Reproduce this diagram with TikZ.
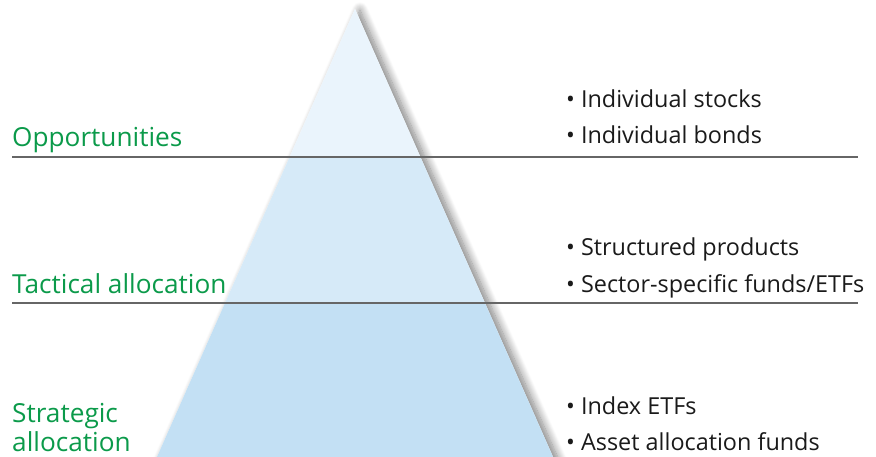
\documentclass[tikz,border=0pt]{standalone}
\usepackage{fontspec}
\setmainfont{Open Sans}
\usetikzlibrary{shadows.blur}
\definecolor{grn}{HTML}{0B9A4A}
\definecolor{ink}{HTML}{1A1A1A}
\definecolor{topc}{HTML}{EAF4FC}
\definecolor{midc}{HTML}{D6EAF8}
\definecolor{botc}{HTML}{C3E0F4}
\definecolor{rule}{HTML}{666666}
\tikzset{
  lvl/.style={text=grn, font=\fontsize{26.2}{30}\selectfont, inner sep=0pt, anchor=base west},
  item/.style={text=ink, font=\fontsize{23.4}{26}\selectfont, inner sep=0pt, anchor=base west},
  sep/.style={draw=rule, line width=2.8pt}
}
\begin{document}
\begin{tikzpicture}[x=1pt,y=-1pt]
\useasboundingbox (0,0) rectangle (876,457);
\begin{scope}
\clip (0,0) rectangle (876,457);
\fill[white, blur shadow={shadow xshift=5pt, shadow yshift=-1pt, shadow blur steps=12, shadow blur radius=8pt, shadow opacity=50}]
  (355,9) -- (149,475) -- (561,475) -- cycle;
\begin{scope}
\clip (355,9) -- (149,475) -- (561,475) -- cycle;
\fill[topc] (0,0) rectangle (876,157);
\fill[midc] (0,157) rectangle (876,303);
\fill[botc] (0,303) rectangle (876,480);
\end{scope}
\end{scope}
\coordinate (l1a) at (12,157);
\coordinate (l1b) at (858,157);
\coordinate (l2a) at (12,303);
\coordinate (l2b) at (858,303);
\draw[sep] (l1a) -- (l1b);
\draw[sep] (l2a) -- (l2b);
\node[lvl] (opp) at (12,147) {Opportunities};
\node[lvl] (tac) at (12,294) {Tactical allocation};
\node[lvl] (str1) at (12,422) {Strategic};
\node[lvl] (str2) at (12,451) {allocation};
\node[item] (i1) at (566,108) {• Individual stocks};
\node[item] (i2) at (566,144) {• Individual bonds};
\node[item] (i3) at (566,256) {• Structured products};
\node[item] (i4) at (566,292) {• Sector-specific funds/ETFs};
\node[item] (i5) at (566,414) {• Index ETFs};
\node[item] (i6) at (566,450) {• Asset allocation funds};
\end{tikzpicture}
\end{document}
